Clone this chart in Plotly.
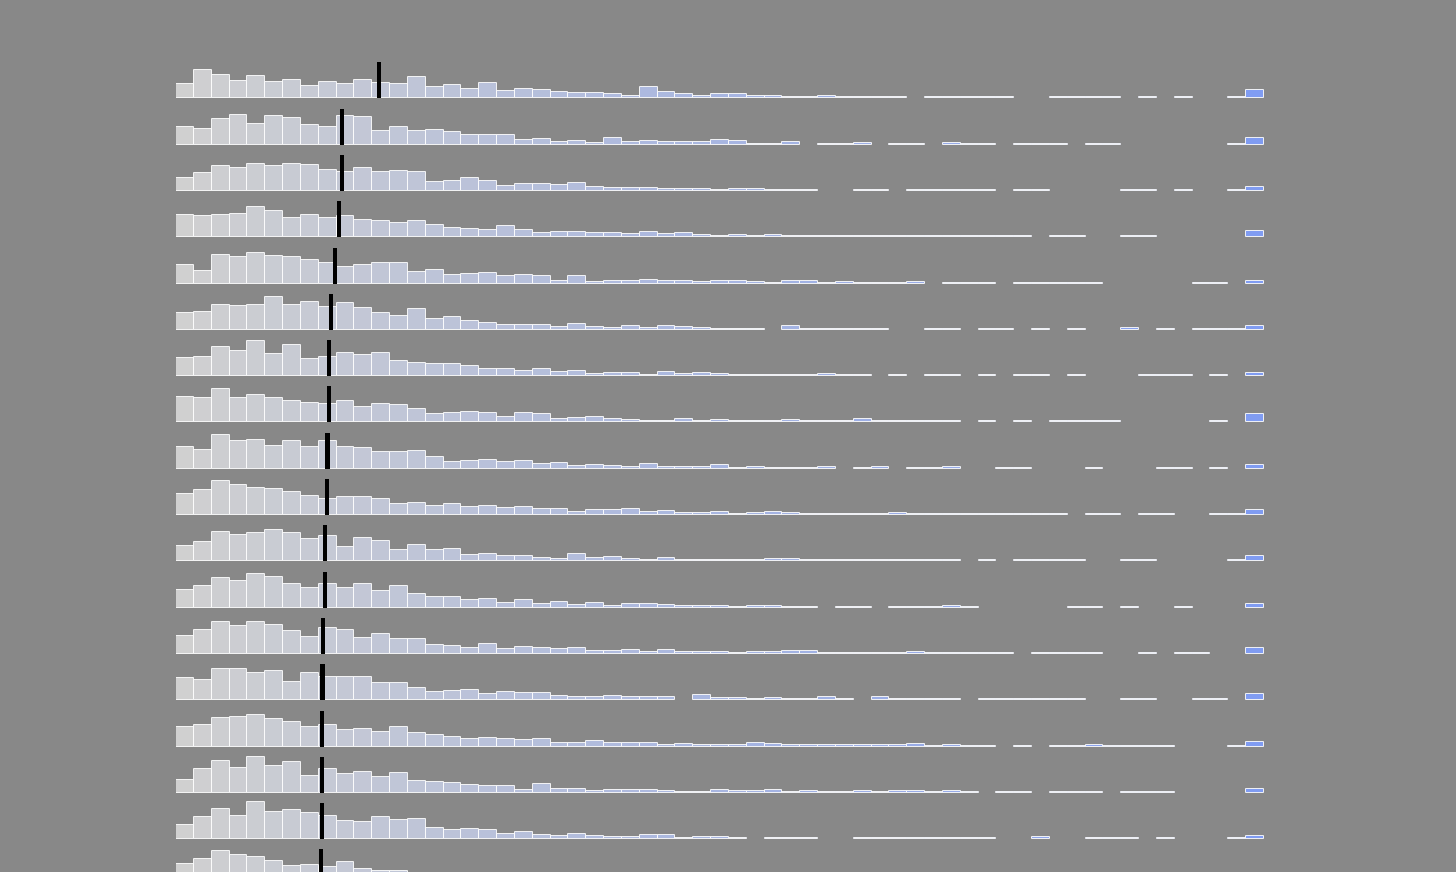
import plotly.graph_objects as go

# ---------------- data (bar heights per row, 61 bins each) ----------------
bins = list(range(61))

row_01 = [14.3, 28.3, 23.3, 17.3, 22.3, 16.3, 18.3, 12.3, 16.3, 14.3, 18, 15.3, 14.3, 21.7, 11.3, 13.7, 9, 15.3, 7.3, 9.3, 8.3, 6.3, 5.7, 5, 4.3, 2.7, 11.3,
          6.3, 4.3, 2.3, 4.3, 4.3, 2.3, 2.7, 1.3, 1.3, 2.7, 1.3, 1.3, 1.3, 1, 0, 1, 1, 1, 1, 1, 0, 0, 1, 1, 1, 1, 0, 1, 0, 1, 0, 0, 1, 8.3]
row_02 = [17.3, 16, 26, 30, 21, 29, 27, 20, 18, 29, 27.7, 14, 18, 14, 15, 13, 10, 9.3, 9.3, 5, 6, 3, 4, 1.7, 6.7, 3, 4,
          2.3, 2.3, 2.3, 4.3, 3.3, 1, 1, 2.3, 0, 1, 1, 2, 0, 1, 1, 0, 2, 1, 1, 0, 1, 1, 1, 0, 1, 1, 0, 0, 0, 0, 0, 0, 1, 7]
row_03 = [12.7, 18, 25, 23, 27, 25, 27, 26, 21.3, 19, 23, 19, 20, 19, 9, 10.3, 12.7, 10, 5.3, 7.3, 7.3, 6, 8.3, 4, 2.7, 3, 3,
          2, 2.3, 2.3, 1.3, 2.3, 2.3, 1.3, 1.3, 1.3, 0, 0, 1, 1.3, 0, 1, 1.3, 1, 1.3, 1, 0, 1, 1, 0, 0, 0, 0, 1, 1, 0, 1, 0, 0, 1, 4.3]
row_04 = [22.3, 21, 22.3, 23.3, 30.3, 26.3, 19.7, 22.7, 19, 21, 17.3, 16.3, 14.7, 16, 12, 9.3, 8.3, 7.3, 11.3, 7.3, 4.3, 5.3, 5.3, 4.3, 4.3, 3, 5.3,
          3.3, 4.3, 2.3, 1, 2.3, 1.3, 2.3, 1.7, 1.7, 1.7, 1.7, 1.7, 1.7, 1.3, 1, 1, 1.3, 1.3, 1.7, 1, 1, 0, 1.3, 1.3, 0, 0, 1, 1, 0, 0, 0, 0, 0, 6.3]
row_05 = [18.7, 12.7, 28.3, 26.7, 30.7, 27.7, 26.7, 23.7, 20.3, 16.7, 18.7, 21, 21, 11.7, 13.7, 8.7, 9.7, 10.3, 8, 8.7, 7.3, 2.7, 7.3, 1.7, 2.7, 2.3, 3.7,
          2.3, 3, 1.7, 2.7, 2.7, 1.7, 1, 2.7, 2.7, 1, 1.7, 1, 1, 1, 1.7, 0, 1, 1, 1, 0, 1, 1, 1, 1, 1, 0, 0, 0, 0, 0, 1, 1, 0, 2.7]
row_06 = [17.3, 18, 24.7, 24, 24.7, 33.3, 25.3, 28, 23, 27, 22.3, 17.3, 14, 21, 11, 13, 8.7, 7, 5, 5, 5, 3.3, 6, 3.3, 1.7, 4, 1.7,
          4, 3, 1.7, 1.3, 1.3, 1, 0, 4, 1, 1.3, 1, 1, 1.3, 0, 0, 1, 1, 0, 1.3, 1, 0, 1, 0, 1, 0, 0, 1.5, 0, 1, 0, 1, 1.3, 1, 4]
row_07 = [18.3, 19, 29, 25, 35, 22, 30.7, 17, 19, 23, 21, 23, 14.7, 13, 12.3, 11.7, 10, 6.7, 6.7, 5, 6.7, 4, 5, 2, 3, 2.7, 1.3,
          4, 1.7, 3, 2, 1, 1, 1, 1, 1, 2, 1, 1, 0, 1, 0, 1, 1, 0, 1, 0, 1, 1, 0, 1, 0, 0, 0, 1, 1, 1, 0, 1, 0, 3.3]
row_08 = [25.3, 24.3, 33.3, 24.7, 27.3, 24.3, 21.3, 19.3, 18.3, 21, 15.3, 18, 17, 13.7, 8, 9.3, 10.3, 9.3, 5, 9.3, 8, 3.3, 4.3, 5.3, 3.3, 2, 1,
          1.3, 3.7, 1.3, 2.3, 1.3, 1.3, 1, 2.3, 1, 1.3, 1.3, 3.3, 1, 1.3, 1, 1, 1, 0, 1, 0, 1, 0, 1, 1, 1, 1, 0, 0, 0, 0, 0, 1, 0, 8]
row_09 = [22, 19, 33.7, 27.7, 28.7, 22.7, 28, 22, 28, 21.3, 20.3, 17, 17, 18, 12, 7, 8, 9, 7, 8, 5, 6, 3, 4, 2.3, 1.7, 4.5,
          1.7, 2, 1.7, 4, 1, 2, 1, 1, 1, 2, 0, 1, 2, 0, 1, 1, 2, 0, 0, 1, 1, 0, 0, 0, 1, 0, 0, 0, 1, 1, 0, 1, 0, 4]
row_10 = [20.7, 25, 34, 30, 26.7, 26, 23, 19, 16, 18.3, 18, 16, 11.3, 12, 9, 11, 8, 9, 7, 8.3, 6.3, 6, 3.3, 5, 4.7, 5.7, 2.7,
          3.7, 2, 2, 3, 1, 2, 3, 2, 1, 1, 1, 1, 1, 2, 1, 1, 1, 1, 1, 1, 1, 1, 1, 0, 1, 1, 0, 1, 1, 0, 0, 1, 1, 5]
row_11 = [15, 19.3, 29, 26, 28, 31.3, 28, 22.7, 25.3, 14.3, 23, 20, 11, 16.7, 11.7, 12.3, 6, 7, 5, 5, 3.7, 2, 7, 3.7, 4, 2, 1.8,
          3, 1, 1.7, 1.7, 1.7, 1, 2, 2, 1, 1, 1, 1, 1, 1, 1, 1, 1, 0, 1.3, 0, 1, 1, 1, 1.3, 0, 0, 1, 1, 0, 0, 0, 0, 1, 5]
row_12 = [17.3, 21.7, 29.7, 26.7, 33.3, 30.3, 24, 19.3, 23.3, 19.3, 23.3, 16.3, 21.3, 13.7, 10.3, 10.3, 7.7, 8.3, 4.3, 7.7, 3.7, 5.3, 2.3, 5, 1.3, 3.3, 3.3,
          2.3, 1.3, 1.3, 1.3, 1, 1.3, 1.3, 1, 1, 0, 1, 1, 0, 1, 1, 1, 1.3, 1, 0, 0, 0, 0, 0, 1, 1, 0, 1, 0, 0, 1, 0, 0, 0, 3.3]
row_13 = [18, 24, 32, 28, 32, 29, 23, 17, 26, 24, 16, 20.3, 15, 14.7, 9.3, 8, 6, 10, 5, 7, 6, 5, 6, 3, 3, 4, 2,
          4, 2, 2, 2, 1, 2, 2, 3.3, 3.3, 1, 1, 1, 1, 1, 2, 1, 1, 1, 1, 1, 0, 1, 1, 1, 1, 0, 0, 1, 0, 1, 1, 0, 0, 6]
row_14 = [22, 20, 31.3, 31.3, 27, 29.3, 18, 27, 23.7, 23.7, 23, 17, 17, 12.7, 8, 9, 10.3, 6, 8, 7.3, 7.3, 4, 3, 3, 4, 3, 3.5,
          3, 0, 5.3, 2.3, 2, 1, 2, 1, 1, 3, 1, 0, 3.3, 1.3, 1, 1, 1.3, 0, 1.3, 1.3, 1, 1.3, 1, 1, 0, 0, 1, 1.3, 0, 0, 1, 1, 0, 6]
row_15 = [19.3, 22, 28.3, 29.3, 31.3, 27.7, 24.3, 19.3, 22, 16.3, 17.3, 14.7, 19.3, 14, 11.3, 9.3, 7.3, 8.3, 7.3, 6.7, 7.3, 3.7, 3.7, 5.3, 3.3, 3.3, 3.3,
          1.3, 2.3, 1.7, 1.7, 1.7, 3.3, 2.3, 1.3, 1.3, 1.3, 1.3, 1.7, 1.3, 1.3, 2.3, 1, 1.3, 1, 1, 0, 1, 0, 1, 1, 1.3, 1, 1, 1, 1, 0, 0, 0, 1, 5]
row_16 = [13, 23.7, 32, 24.7, 36.3, 26.7, 31, 17.3, 24, 18.7, 20.7, 15.7, 20.3, 11.7, 10.7, 10.3, 7.7, 6.7, 7.3, 3.3, 9.3, 4.3, 4.3, 2, 3.3, 3.3, 2.5,
          1.7, 1, 1, 2.7, 1.7, 1.7, 2.7, 1, 1.7, 1, 1, 1.7, 1, 1.7, 1.7, 1, 1.7, 1, 0, 1, 1, 0, 1, 1, 1, 0, 1, 1, 1, 0, 0, 0, 0, 3.7]
row_17 = [14, 21.7, 29.7, 23, 37, 27, 29, 26, 23, 18, 17.3, 22.3, 19, 20, 10.7, 9, 10, 9, 5, 7, 4, 3, 5, 3, 1.7, 1.7, 4,
          4, 1, 2, 2, 1, 0, 1, 1, 1, 0, 0, 1, 1, 1, 1, 1, 1, 1, 1, 0, 0, 2, 0, 0, 1, 1, 1, 0, 1, 0, 0, 0, 1, 2.7]
row_18 = [21.3, 26.7, 34.3, 30.3, 28, 24.3, 19.3, 20.7, 18.3, 23.3, 16.3, 14, 14.7,
          11, 9, 8, 8, 6, 6, 5, 4, 4, 3, 3, 2, 2, 2, 2, 1, 1, 1, 1, 1, 0, 1, 1, 0, 1, 1, 0, 1, 0, 0, 1, 0, 1, 0, 1,
          0, 0, 0, 0, 0, 0, 0, 0, 0, 0, 0, 0, 3]

rows = [row_01, row_02, row_03, row_04, row_05, row_06, row_07, row_08, row_09,
        row_10, row_11, row_12, row_13, row_14, row_15, row_16, row_17, row_18]

# median marker position (in bin units) for each row
medians = [10.88, 8.82, 8.79, 8.62, 8.43, 8.19, 8.08, 8.08, 7.99,
           7.97, 7.84, 7.84, 7.76, 7.72, 7.70, 7.70, 7.69, 7.63]

# ---------------- styling / layout constants ----------------
ROW_STEP = 46.3
MARKER_HEIGHT = 36
BG = "#888888"
C0 = (208, 208, 208)
C1 = (128, 156, 242)


def grad(i, n=61):
    t = i / (n - 1)
    return "rgb(%d,%d,%d)" % tuple(round(a + (b - a) * t) for a, b in zip(C0, C1))


bar_colors = [grad(i) for i in bins]

fig = go.Figure()
for r, vals in enumerate(rows):
    ys = [v if v > 0 else None for v in vals]
    fig.add_trace(go.Bar(
        x=bins, y=ys, base=-ROW_STEP * r, width=1,
        marker=dict(color=bar_colors, line=dict(color="rgba(255,255,255,0.85)", width=1)),
        hoverinfo="skip", showlegend=False,
    ))

fig.add_trace(go.Bar(
    x=medians, y=[MARKER_HEIGHT] * len(medians),
    base=[-ROW_STEP * r for r in range(len(medians))],
    width=0.24, marker=dict(color="black", line=dict(width=0)),
    hoverinfo="skip", showlegend=False,
))

top = 98.3
fig.update_layout(
    width=1456, height=872,
    margin=dict(l=176, r=192, t=0, b=0, pad=0),
    paper_bgcolor=BG, plot_bgcolor=BG,
    barmode="overlay", bargap=0,
    xaxis=dict(range=[-0.5, 60.5], visible=False, fixedrange=True),
    yaxis=dict(range=[top - 872, top], visible=False, fixedrange=True),
)

fig.write_html(
    "out.html",
    config={"displayModeBar": False},
    post_script="document.body.style.margin='0';document.body.style.overflow='hidden';",
)
